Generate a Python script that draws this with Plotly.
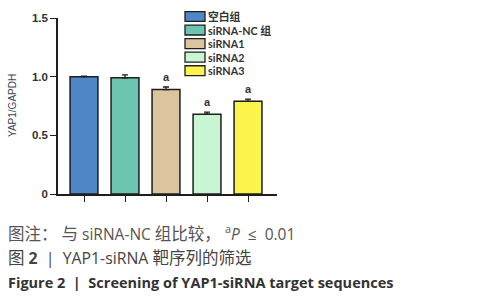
import plotly.graph_objects as go

categories = ["空白组", "siRNA-NC 组", "siRNA1", "siRNA2", "siRNA3"]
values = [1.00, 0.99, 0.89, 0.68, 0.79]
errors = [0.005, 0.025, 0.022, 0.018, 0.018]
signif = ["", "", "a", "a", "a"]
colors = ["#4f86c6", "#6cc5b1", "#dcc49e", "#c8f5d2", "#faf44c"]
ytick_vals = [0, 0.5, 1.0, 1.5]
ytick_text = ["0", "0.5", "1.0", "1.5"]

def cjk(s):
    return '<span style="font-size:16.5px">' + s + '</span>'

caption_lines = [
    cjk("图注：") + " " + cjk("与") + " siRNA-NC " + cjk("组比较，") + " <sup>a</sup><i>P</i>  ≤  0.01",
    cjk("图") + " <b>2</b>  |  YAP1-siRNA " + cjk("靶序列的筛选"),
    "<b>Figure 2  |  Screening of YAP1-siRNA target sequences</b>",
]
caption_sizes = [15.5, 15.8, 14.5]

W, H = 496, 300
L, R = 58, 277
T, B = 16, 194
pw, ph = R - L, B - T

def px(x):
    return (x - L) / pw

def py(y):
    return (B - y) / ph

xs = list(range(len(categories)))
fig = go.Figure()
fig.add_trace(go.Bar(
    x=xs, y=values, width=0.68,
    marker=dict(color=colors, line=dict(color="#1e1e1e", width=1.5)),
    error_y=dict(type="data", array=errors, arrayminus=[0] * len(values),
                 symmetric=False, color="#1e1e1e", thickness=1.3, width=3),
    showlegend=False,
))

annotations = []
for i, s in enumerate(signif):
    if s:
        annotations.append(dict(x=xs[i], y=values[i] + errors[i], text=s, showarrow=False,
                                yanchor="bottom", yshift=2,
                                font=dict(family="Liberation Sans", size=11, color="#333", weight="bold")))

# compact legend built from the category list
shapes = []
leg_y0 = 14.5
leg_dy = 13.7
for i, (c, col) in enumerate(zip(categories, colors)):
    yc = leg_y0 + i * leg_dy
    shapes.append(dict(type="rect", xref="paper", yref="paper",
                       x0=px(185), x1=px(205), y0=py(yc + 5), y1=py(yc - 5),
                       fillcolor=col, line=dict(color="#1e1e1e", width=1.3)))
    annotations.append(dict(xref="paper", yref="paper", x=px(206), y=py(yc),
                            xanchor="left", yanchor="middle", showarrow=False,
                            text=c, font=dict(family="Lato, Noto Sans CJK SC", size=10.8,
                                              color="#333", weight="bold")))

# y-axis title
annotations.append(dict(xref="paper", yref="paper", x=px(12), y=py(105), text="YAP1/GAPDH",
                        textangle=-90, showarrow=False, xanchor="center", yanchor="middle",
                        font=dict(family="Liberation Sans", size=10, color="#3c4656")))

cap_y = [233, 258, 283]
cap_col = ["#555", "#444", "#333"]
for t, yy, cc, fs in zip(caption_lines, cap_y, cap_col, caption_sizes):
    annotations.append(dict(xref="paper", yref="paper", x=px(6), y=py(yy), text=t,
                            xanchor="left", yanchor="middle", showarrow=False,
                            font=dict(family="Open Sans, Noto Sans CJK SC", size=fs, color=cc)))

fig.update_layout(
    width=W, height=H,
    margin=dict(l=L, r=W - R, t=T, b=H - B),
    paper_bgcolor="white", plot_bgcolor="white",
    xaxis=dict(range=[-0.634, 4.707], tickmode="array", tickvals=xs, showticklabels=False,
               ticks="outside", ticklen=6, tickwidth=1.3, tickcolor="#1e1e1e",
               showline=True, linecolor="#1e1e1e", linewidth=1.5, showgrid=False, zeroline=False),
    yaxis=dict(range=[0, 1.5], tickmode="array", tickvals=ytick_vals, ticktext=ytick_text,
               ticks="outside", ticklen=6, tickwidth=1.3, tickcolor="#1e1e1e",
               showline=True, linecolor="#1e1e1e", linewidth=1.5, showgrid=False, zeroline=False,
               tickfont=dict(family="Liberation Sans", size=11.5, color="#333", weight="bold")),
    annotations=annotations,
    shapes=shapes,
)

fig.write_html("out.html", config={"displayModeBar": False},
               post_script="document.body.style.margin='0';")
